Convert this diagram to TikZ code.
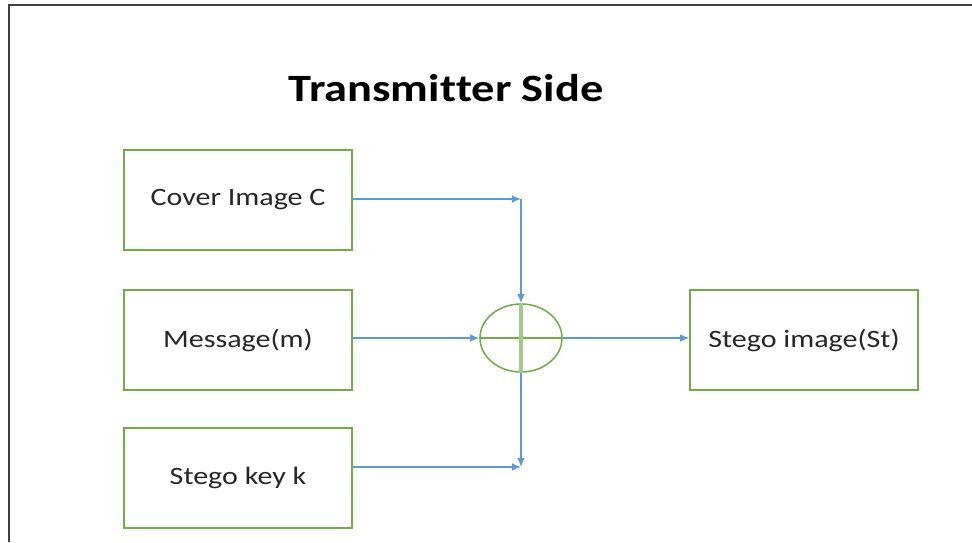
\documentclass[tikz,border=0pt]{standalone}
\usepackage{fontspec}
\setmainfont{Carlito}[FakeStretch=1.2, Ligatures=NoCommon]
\usetikzlibrary{shapes.geometric, arrows.meta, positioning, calc}

\definecolor{boxgreen}{HTML}{70AD47}
\definecolor{arrblue}{HTML}{5B9BD5}
\definecolor{framegray}{HTML}{404040}

\begin{document}
\begin{tikzpicture}[
    x=0.025cm, y=-0.025cm,
    box/.style={rectangle, draw=boxgreen, line width=1.1pt,
                minimum width=5.7cm, minimum height=2.5cm,
                text=black!85, font=\fontsize{17.8}{20}\selectfont},
    sumnode/.style={ellipse, draw=boxgreen, line width=1.1pt,
                    minimum width=2.05cm, minimum height=1.7cm, inner sep=0pt},
    arr/.style={-{Latex[length=6.5pt, width=5.5pt]}, line width=0.9pt, draw=arrblue},
]

% --- canvas + frame ---
\useasboundingbox (0,0) rectangle (972,542);
\draw [framegray, line width=1.5pt] (9,542) -- (9,5) -- (972,5);

% --- title ---
\node (title) [font=\fontsize{27.5}{32}\selectfont\bfseries] at (446,88)
    {Transmit\kern0pt ter Side};

% --- inputs ---
\node (cover) [box] at (238,200) {Cover Image C};
\node (msg)   [box] at (238,340) {Message(m)};
\node (key)   [box] at (238,478) {Stego key k};

% --- embedding ---
\node (sum) [sumnode] at (521,338) {};
\draw [boxgreen, line width=0.9pt] (sum.west) -- (sum.east);
\draw [boxgreen!65, line width=2.4pt] (sum.north) -- (sum.south);

% --- output ---
\node (stego) [box] at (804,340) {Stego image(St)};

% --- corner points ---
\coordinate (tl) at (521,199);
\coordinate (bl) at (521,467);

% --- arrows ---
\draw [arr] (cover.east |- tl) -- (tl);
\draw [arr] (tl) -- (sum.north);
\draw [arr] (msg.east |- sum) -- (sum.west);
\draw [arr] (sum.south) -- (bl);
\draw [arr] (key.east |- bl) -- (bl);
\draw [arr] (sum.east) -- (stego.west |- sum);

\end{tikzpicture}
\end{document}
